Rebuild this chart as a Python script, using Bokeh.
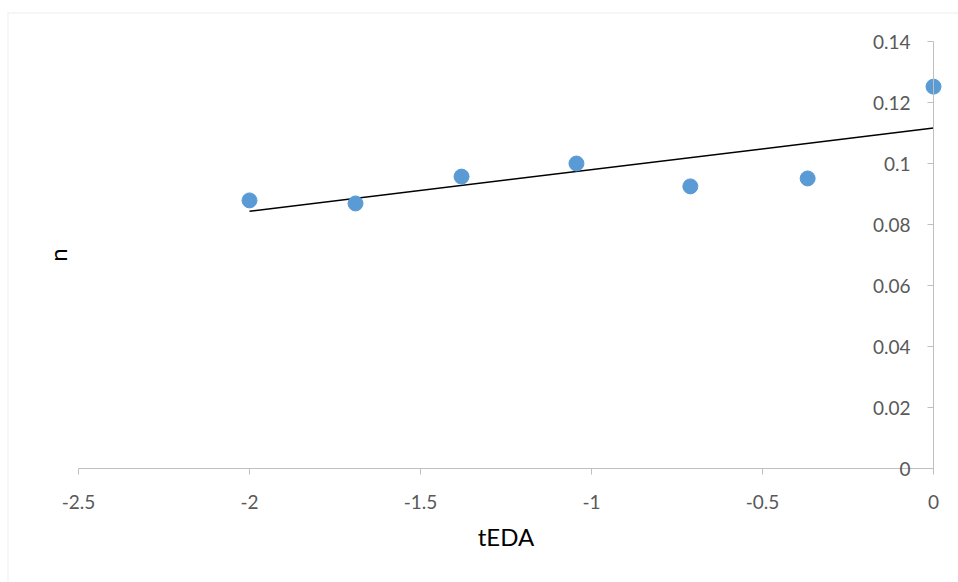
from bokeh.plotting import figure
from bokeh.models import Range1d, FixedTicker, ColumnDataSource, BoxAnnotation, Label
from bokeh.embed import file_html
from bokeh.resources import INLINE
import numpy as np

# data
tEDA = [-2.0, -1.69, -1.38, -1.044, -0.711, -0.368, 0.0]
n_vals = [0.0879, 0.0869, 0.0957, 0.1000, 0.0925, 0.0951, 0.1252]

x_ticks = [-2.5, -2.0, -1.5, -1.0, -0.5, 0.0]
x_tick_labels = ["-2.5", "-2", "-1.5", "-1", "-0.5", "0"]
y_ticks = [0.0, 0.02, 0.04, 0.06, 0.08, 0.1, 0.12, 0.14]
y_tick_labels = ["0", "0.02", "0.04", "0.06", "0.08", "0.1", "0.12", "0.14"]

FONT = "Lato"
AXIS_GREY = "#bfbfbf"
LABEL_GREY = "#595959"

# layout: pixel positions of the axes inside the 958x582 canvas
W, H = 958, 582
XL_PX, XR_PX = 78, 933      # x = -2.5 and x = 0
YB_PX, YT_PX = 468, 41      # y = 0 and y = 0.14
xmin, xmax = x_ticks[0], x_ticks[-1]
ymin, ymax = y_ticks[0], y_ticks[-1]
xpp = (xmax - xmin) / (XR_PX - XL_PX)
ypp = (ymax - ymin) / (YB_PX - YT_PX)
x_range = Range1d(xmin - XL_PX * xpp, xmax + (W - XR_PX) * xpp)
y_range = Range1d(ymin - (H - YB_PX) * ypp, ymax + YT_PX * ypp)

p = figure(width=W, height=H, output_backend="svg", toolbar_location=None,
           x_range=x_range, y_range=y_range,
           min_border_left=0, min_border_right=0, min_border_top=0, min_border_bottom=0)
p.outline_line_color = None
p.grid.visible = False

# outer chart border
p.add_layout(BoxAnnotation(left=7.5, top=12.5, right=3000, bottom=3000,
                           left_units="canvas", right_units="canvas",
                           top_units="canvas", bottom_units="canvas",
                           fill_color=None, line_color="#d9d9d9", line_width=1.5))

# linear trend line (least squares fit of the data)
slope, intercept = np.polyfit(tEDA, n_vals, 1)
tx = [min(tEDA), max(tEDA)]
ty = [slope * v + intercept for v in tx]
p.line(tx, ty, line_color="black", line_width=1.5)

src = ColumnDataSource(dict(x=tEDA, y=n_vals))
p.scatter("x", "y", source=src, size=15, fill_color="#5b9bd5", line_color="#5b9bd5")

# x axis crossing at y = 0
xa = p.xaxis[0]
xa.fixed_location = 0
xa.ticker = FixedTicker(ticks=x_ticks)
xa.major_label_overrides = {t: l for t, l in zip(x_ticks, x_tick_labels)}
xa.bounds = (xmin, xmax)
xa.axis_line_color = AXIS_GREY
xa.major_tick_line_color = AXIS_GREY
xa.minor_tick_line_color = None
xa.major_tick_in = 0
xa.major_tick_out = 6
xa.major_label_standoff = 20
xa.major_label_text_font = FONT
xa.major_label_text_font_size = "19px"
xa.major_label_text_color = LABEL_GREY
xa.axis_label = "tEDA"
xa.axis_label_text_font = FONT
xa.axis_label_text_font_size = "24px"
xa.axis_label_text_font_style = "normal"
xa.axis_label_text_color = "black"
xa.axis_label_standoff = 10

# y axis crossing at x = 0
ya = p.yaxis[0]
ya.fixed_location = 0
ya.ticker = FixedTicker(ticks=y_ticks)
ya.major_label_overrides = {t: l for t, l in zip(y_ticks, y_tick_labels)}
ya.bounds = (ymin, ymax)
ya.axis_line_color = AXIS_GREY
ya.major_tick_line_color = AXIS_GREY
ya.minor_tick_line_color = None
ya.major_tick_in = 0
ya.major_tick_out = 6
ya.major_label_standoff = 17
ya.major_label_text_font = FONT
ya.major_label_text_font_size = "19px"
ya.major_label_text_color = LABEL_GREY

# y axis title on the far left
p.add_layout(Label(x=xmin, y=(ymin + ymax) / 2, x_offset=-21, text="n", angle=np.pi / 2,
                   text_font=FONT, text_font_size="24px", text_color="black",
                   text_align="center", text_baseline="middle"))

open("out.html", "w").write(file_html(p, INLINE))
